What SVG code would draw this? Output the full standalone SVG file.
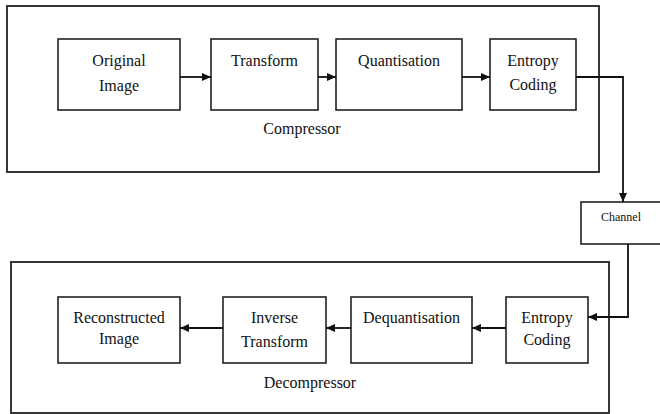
<svg xmlns="http://www.w3.org/2000/svg" width="660" height="414" viewBox="0 0 660 414" font-family="Liberation Serif, Times New Roman, serif">
<defs>
<marker id="ah" markerWidth="9" markerHeight="8" refX="9" refY="4" orient="auto" markerUnits="userSpaceOnUse">
<path d="M0,0 L9,4 L0,8 Z" fill="#111"/>
</marker>
</defs>
<style>
.box{fill:#fff;stroke:#222;stroke-width:1.6}
.outer{fill:none;stroke:#222;stroke-width:1.8}
text{font-size:16px;fill:#111;text-anchor:middle}
.s{font-size:12px}
.c{fill:none;stroke:#111;stroke-width:1.8}
</style>
<rect width="660" height="414" fill="#fff"/>
<g id="compressor">
<rect class="outer" x="7" y="6" width="592" height="166"/>
<text x="302" y="134">Compressor</text>
</g>
<g id="decompressor">
<rect class="outer" x="11" y="262" width="598" height="151"/>
<text x="310" y="388">Decompressor</text>
</g>
<g id="original">
<rect class="box" x="58" y="39" width="122" height="71"/>
<text x="119" y="66">Original</text>
<text x="119" y="91">Image</text>
</g>
<g id="transform">
<rect class="box" x="211" y="39" width="107" height="71"/>
<text x="264.5" y="66">Transform</text>
</g>
<g id="quantisation">
<rect class="box" x="336" y="39" width="126" height="71"/>
<text x="399" y="66">Quantisation</text>
</g>
<g id="entropy1">
<rect class="box" x="490" y="39" width="86" height="71"/>
<text x="533" y="66">Entropy</text>
<text x="533" y="90">Coding</text>
</g>
<g id="channel">
<rect class="box" x="581" y="202" width="82" height="42"/>
<text class="s" x="621" y="221">Channel</text>
</g>
<g id="entropy2">
<rect class="box" x="506" y="297" width="82" height="66"/>
<text x="547" y="323">Entropy</text>
<text x="547" y="345">Coding</text>
</g>
<g id="dequantisation">
<rect class="box" x="351" y="297" width="121" height="66"/>
<text x="411.5" y="323">Dequantisation</text>
</g>
<g id="inverse">
<rect class="box" x="223" y="297" width="103" height="66"/>
<text x="274.5" y="323">Inverse</text>
<text x="274.5" y="347">Transform</text>
</g>
<g id="reconstructed">
<rect class="box" x="58" y="297" width="122" height="66"/>
<text x="119" y="323">Reconstructed</text>
<text x="119" y="344">Image</text>
</g>
<g id="connectors">
<line class="c" x1="180" y1="77" x2="211" y2="77" marker-end="url(#ah)"/>
<line class="c" x1="318" y1="77" x2="336" y2="77" marker-end="url(#ah)"/>
<line class="c" x1="462" y1="77" x2="490" y2="77" marker-end="url(#ah)"/>
<polyline class="c" points="576,77 623,77 623,202" marker-end="url(#ah)"/>
<polyline class="c" points="628,244 628,317 588,317" marker-end="url(#ah)"/>
<line class="c" x1="506" y1="328" x2="472" y2="328" marker-end="url(#ah)"/>
<line class="c" x1="351" y1="328" x2="326" y2="328" marker-end="url(#ah)"/>
<line class="c" x1="223" y1="328" x2="180" y2="328" marker-end="url(#ah)"/>
</g>
</svg>
